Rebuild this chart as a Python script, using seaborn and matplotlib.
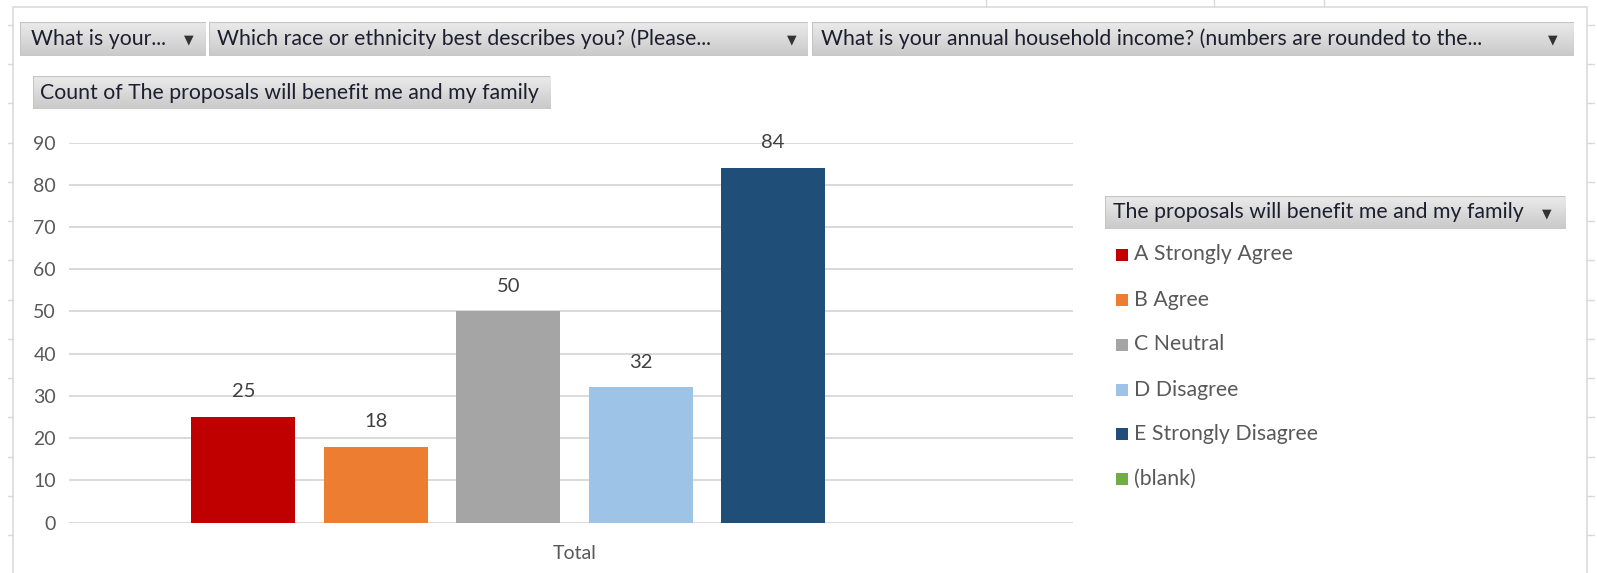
import numpy as np
import pandas as pd
import matplotlib
matplotlib.use("Agg")
import matplotlib.pyplot as plt
from matplotlib.colors import LinearSegmentedColormap
from matplotlib.patches import Rectangle
from matplotlib.lines import Line2D
import seaborn as sns

# ---- data -------------------------------------------------------------
responses = ["A Strongly Agree", "B Agree", "C Neutral", "D Disagree",
             "E Strongly Disagree", "(blank)"]
counts = [25, 18, 50, 32, 84, np.nan]
colors = ["#C00000", "#ED7D31", "#A5A5A5", "#9DC3E6", "#1F4E79", "#70AD47"]
group_label = "Total"
y_ticks = [0, 10, 20, 30, 40, 50, 60, 70, 80, 90]

filter_fields = ["What is your...",
                 "Which race or ethnicity best describes you? (Please...",
                 "What is your annual household income? (numbers are rounded to the..."]
value_field = "Count of The proposals will benefit me and my family"
legend_field = "The proposals will benefit me and my family"

# ---- figure setup -----------------------------------------------------
W, H = 1597, 573
sns.set_theme(style="white")
plt.rcParams["font.family"] = ["Lato", "DejaVu Sans"]

fig = plt.figure(figsize=(W / 100, H / 100), dpi=100)
fig.patch.set_facecolor("white")

FS_TICK = 14
FS_LABEL = 14.5
FS_TEXT = 15.3
TICK_COLOR = "#595959"
FRAME = "#d9d9d9"


def fx(px):
    return px / W


def fy(py):
    return 1 - py / H


def rect(x0, y0, x1, y1):
    return [fx(x0), fy(y1), fx(x1) - fx(x0), fy(y0) - fy(y1)]


def fig_line(xs, ys, color=FRAME, lw=1.1):
    fig.add_artist(Line2D([fx(x) for x in xs], [fy(y) for y in ys],
                          transform=fig.transFigure, color=color, lw=lw))


# worksheet frame around the chart object
fig_line([13, 1587], [7.3, 7.3])
fig_line([13, 13], [7.3, 573])
fig_line([1587, 1587], [7.3, 573])
for yk in np.arange(142.6 - 3 * 39.25, 573, 39.25):
    fig_line([8, 13], [yk, yk], lw=1.0)
    fig_line([1587, 1594], [yk, yk], lw=1.0)
for xk in [986, 1214, 1324]:
    fig_line([xk, xk], [0, 7.3], lw=1.0)

# ---- pivot-chart field buttons ---------------------------------------
grad = LinearSegmentedColormap.from_list("btn", ["#c9c9c9", "#ebebeb"])


def field_button(x0, y0, x1, y1, text, text_x, arrow_x=None):
    bax = fig.add_axes(rect(x0, y0, x1, y1))
    bax.imshow(np.linspace(0, 1, 64).reshape(-1, 1), cmap=grad,
               aspect="auto", extent=[0, 1, 0, 1], origin="lower")
    bax.set_xlim(0, 1)
    bax.set_ylim(0, 1)
    bax.axis("off")
    bax.add_patch(Rectangle((0, 0), 1, 1, transform=bax.transAxes,
                            fill=False, edgecolor="#c4c4c4", lw=0.8))
    yc = (y0 + y1) / 2
    fig.text(fx(text_x), fy(yc), text, ha="left", va="center",
             fontsize=FS_TEXT, color="#1e1e30")
    if arrow_x is not None:
        fig.text(fx(arrow_x), fy(yc + 1), "\u25BC", ha="center", va="center",
                 fontsize=9, color="#333333", family="DejaVu Sans")


field_button(20.4, 22.4, 205.7, 56, filter_fields[0], 30.6, 188.4)
field_button(208.8, 22.4, 807.7, 56, filter_fields[1], 217, 791.4)
field_button(811.7, 22.4, 1573.6, 56, filter_fields[2], 821, 1553.2)
field_button(32.6, 76.4, 550, 109, value_field, 39.5)
field_button(1105, 196, 1565.4, 229, legend_field, 1113, 1547)

# ---- bar chart ---------------------------------------------------------
ax = fig.add_axes(rect(69.3, 142.6, 1072.5, 522.5))
df = pd.DataFrame({"group": [group_label] * len(responses),
                   "response": responses,
                   "count": counts})
sns.barplot(data=df, x="group", y="count", hue="response",
            hue_order=responses, palette=dict(zip(responses, colors)),
            width=0.792, gap=0.215, saturation=1, legend=False,
            errorbar=None, linewidth=0, ax=ax)

ax.set_xlim(-0.5035, 0.4965)
ax.set_ylim(0, 90)
ax.set_yticks(y_ticks)
ax.set_yticklabels([str(t) for t in y_ticks])
ax.yaxis.grid(True, color=FRAME, lw=1.4)
ax.set_axisbelow(True)
for sp in ax.spines.values():
    sp.set_visible(False)
ax.tick_params(axis="y", length=0, pad=9.5, labelsize=FS_TICK, labelcolor=TICK_COLOR)
ax.tick_params(axis="x", length=0, pad=16, labelsize=FS_TICK, labelcolor=TICK_COLOR)
ax.set_xlabel("")
ax.set_ylabel("")
ax.set_facecolor("none")

for cont in ax.containers:
    labels = ["" if np.isnan(v) else f"{v:g}" for v in cont.datavalues]
    ax.bar_label(cont, labels=labels, padding=12, fontsize=FS_LABEL, color="#404040")

# ---- legend ------------------------------------------------------------
item_y = [254.5, 300, 344.5, 389.5, 434, 479]
for label, col, yc in zip(responses, colors, item_y):
    fig.add_artist(Rectangle((fx(1116), fy(yc + 6)), fx(12), 12 / H,
                             transform=fig.transFigure, facecolor=col,
                             edgecolor="none"))
    fig.text(fx(1134), fy(yc), label, ha="left", va="center",
             fontsize=FS_TEXT, color=TICK_COLOR)

fig.savefig("out.png", dpi=100, facecolor="white")
